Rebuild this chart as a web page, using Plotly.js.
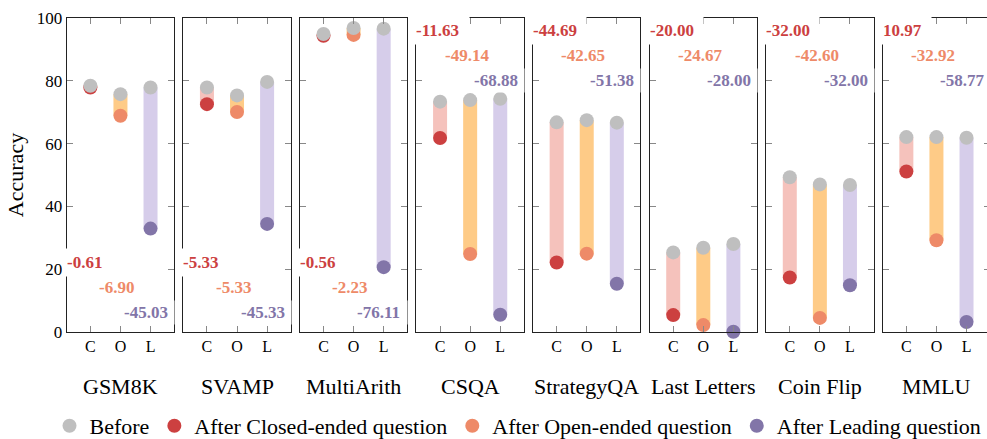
<!DOCTYPE html>
<html>
<head>
<meta charset="utf-8">
<script src="https://cdn.plot.ly/plotly-3.0.1.min.js"></script>
<style>
  html, body { margin: 0; padding: 0; background: #fff; overflow: hidden; }
  #chart { width: 1000px; height: 439px; }
</style>
</head>
<body>
<div id="chart"></div>
<script>
// ---- data ----
const datasets = ['GSM8K', 'SVAMP', 'MultiArith', 'CSQA', 'StrategyQA', 'Last Letters', 'Coin Flip', 'MMLU'];
const questionTypes = ['C', 'O', 'L'];
const beforeClosed  = [78.5, 77.9, 95.0, 73.4, 66.8, 25.3, 49.3, 62.1];
const afterClosed   = [77.9, 72.6, 94.4, 61.8, 22.1, 5.3, 17.3, 51.1];
const beforeOpen    = [75.8, 75.4, 96.9, 73.9, 67.5, 26.8, 47.0, 62.1];
const afterOpen     = [68.9, 70.1, 94.7, 24.8, 24.9, 2.1, 4.4, 29.2];
const beforeLeading = [77.9, 79.7, 96.7, 74.3, 66.7, 28.0, 46.8, 61.9];
const afterLeading  = [32.9, 34.4, 20.6, 5.4, 15.3, 0.0, 14.8, 3.1];
const labelClosed   = ['-0.61', '-5.33', '-0.56', '-11.63', '-44.69', '-20.00', '-32.00', '10.97'];
const labelOpen     = ['-6.90', '-5.33', '-2.23', '-49.14', '-42.65', '-24.67', '-42.60', '-32.92'];
const labelLeading  = ['-45.03', '-45.33', '-76.11', '-68.88', '-51.38', '-28.00', '-32.00', '-58.77'];
const legendNames   = ['Before', 'After Closed-ended question', 'After Open-ended question', 'After Leading question'];
const yTickVals     = [0, 20, 40, 60, 80, 100];

// ---- styles ----
const FONT = '"Liberation Serif", "Times New Roman", serif';
const grayDot = '#bfbfbf';
const dotColors  = ['#cc4040', '#ee8a68', '#8275a8'];
const bandColors = ['#f5c2bc', '#fecb87', '#d6cdea'];
const W = 1000, H = 439;
const panelLeft0 = 66.7, panelStep = 116.57, panelW = 107.5;
const yDom = [(H - 331.7) / H, (H - 18.3) / H];
const LABEL_SIZE = 17;

// approximate width of a bold serif label (Times metrics), used only for box sizing
function labelWidth(s) {
  let w = 0;
  for (const ch of s) w += (ch === '-') ? 0.333 : (ch === '.') ? 0.25 : 0.5;
  return Math.ceil(w * LABEL_SIZE) + 1;
}

const before = [beforeClosed, beforeOpen, beforeLeading];
const after  = [afterClosed, afterOpen, afterLeading];
const labels = [labelClosed, labelOpen, labelLeading];

const traces = [];
const layout = {
  width: W, height: H,
  margin: {l: 0, r: 0, t: 0, b: 0, autoexpand: false},
  paper_bgcolor: '#fff', plot_bgcolor: '#fff',
  font: {family: FONT, color: '#000', size: 16},
  showlegend: true,
  legend: {
    orientation: 'h', x: 0.518, xanchor: 'center', y: (H - 426) / H, yanchor: 'middle',
    font: {family: FONT, size: 22, color: '#000'}, itemsizing: 'trace',
    bgcolor: 'rgba(0,0,0,0)', tracegroupgap: 0
  },
  annotations: []
};

datasets.forEach((name, p) => {
  const sfx = p === 0 ? '' : String(p + 1);
  const xa = 'x' + sfx, ya = 'y' + sfx;
  const x0 = (panelLeft0 + p * panelStep) / W;
  layout['xaxis' + sfx] = {
    domain: [x0, x0 + panelW / W], anchor: ya,
    type: 'category', categoryarray: questionTypes, range: [-0.787, 2.787],
    showline: true, linecolor: '#222', linewidth: 1, mirror: 'ticks',
    ticks: 'inside', ticklen: 6, tickcolor: '#888', tickwidth: 1,
    showgrid: false, zeroline: false, fixedrange: true,
    tickfont: {family: FONT, size: 16, color: '#000'}
  };
  layout['yaxis' + sfx] = {
    domain: yDom, anchor: xa, range: [0, 100], tickvals: yTickVals,
    showline: true, linecolor: '#222', linewidth: 1, mirror: 'ticks',
    ticks: 'inside', ticklen: 6, tickcolor: '#888', tickwidth: 1,
    showgrid: false, zeroline: false, fixedrange: true,
    showticklabels: p === 0,
    tickfont: {family: FONT, size: 17, color: '#000'}
  };
  if (p === 0) {
    layout.yaxis.title = {text: 'Accuracy', font: {family: FONT, size: 22, color: '#000'}, standoff: 7};
  }

  // bands from before to after
  for (let k = 0; k < 3; k++) {
    traces.push({
      type: 'scatter', mode: 'lines', xaxis: xa, yaxis: ya,
      x: [questionTypes[k], questionTypes[k]], y: [before[k][p], after[k][p]],
      line: {color: bandColors[k], width: 14}, showlegend: false, hoverinfo: 'skip'
    });
  }
  // after dots
  for (let k = 0; k < 3; k++) {
    traces.push({
      type: 'scatter', mode: 'markers', xaxis: xa, yaxis: ya,
      x: [questionTypes[k]], y: [after[k][p]],
      marker: {color: dotColors[k], size: 14},
      name: legendNames[k + 1], legendgroup: 'g' + (k + 1), legendrank: k + 2,
      showlegend: p === 0, cliponaxis: false
    });
  }
  // before dots
  traces.push({
    type: 'scatter', mode: 'markers', xaxis: xa, yaxis: ya,
    x: questionTypes, y: [before[0][p], before[1][p], before[2][p]],
    marker: {color: grayDot, size: 14},
    name: legendNames[0], legendgroup: 'g0', legendrank: 1,
    showlegend: p === 0, cliponaxis: false
  });

  // difference labels
  const top = p >= 3;
  const ys = top ? [96, 88, 80] : [22, 14, 6];
  const cfg = [
    {x: 0, anchor: 'left', shift: -5, pad: 4, extra: 4},
    {x: 0.4735, anchor: 'center', shift: 0, pad: 4, extra: 0},
    {x: 1, anchor: 'right', shift: 1, pad: 2, extra: 3}
  ];
  for (let k = 0; k < 3; k++) {
    const c = cfg[k];
    layout.annotations.push({
      xref: xa + ' domain', yref: ya, x: c.x, y: ys[k],
      xanchor: c.anchor, yanchor: 'middle', xshift: c.shift,
      text: '<b>' + labels[k][p] + '</b>', showarrow: false,
      font: {family: FONT, size: LABEL_SIZE, color: dotColors[k]},
      width: labelWidth(labels[k][p]) + c.extra, align: 'left',
      bgcolor: '#fff', borderpad: c.pad
    });
  }
  // dataset title
  layout.annotations.push({
    xref: xa + ' domain', yref: 'paper', x: 0.5, y: (H - 386) / H,
    xanchor: 'center', yanchor: 'middle', text: name, showarrow: false,
    font: {family: FONT, size: 22, color: '#000'}
  });
});

Plotly.newPlot('chart', traces, layout, {staticPlot: true, displayModeBar: false});
</script>
</body>
</html>
